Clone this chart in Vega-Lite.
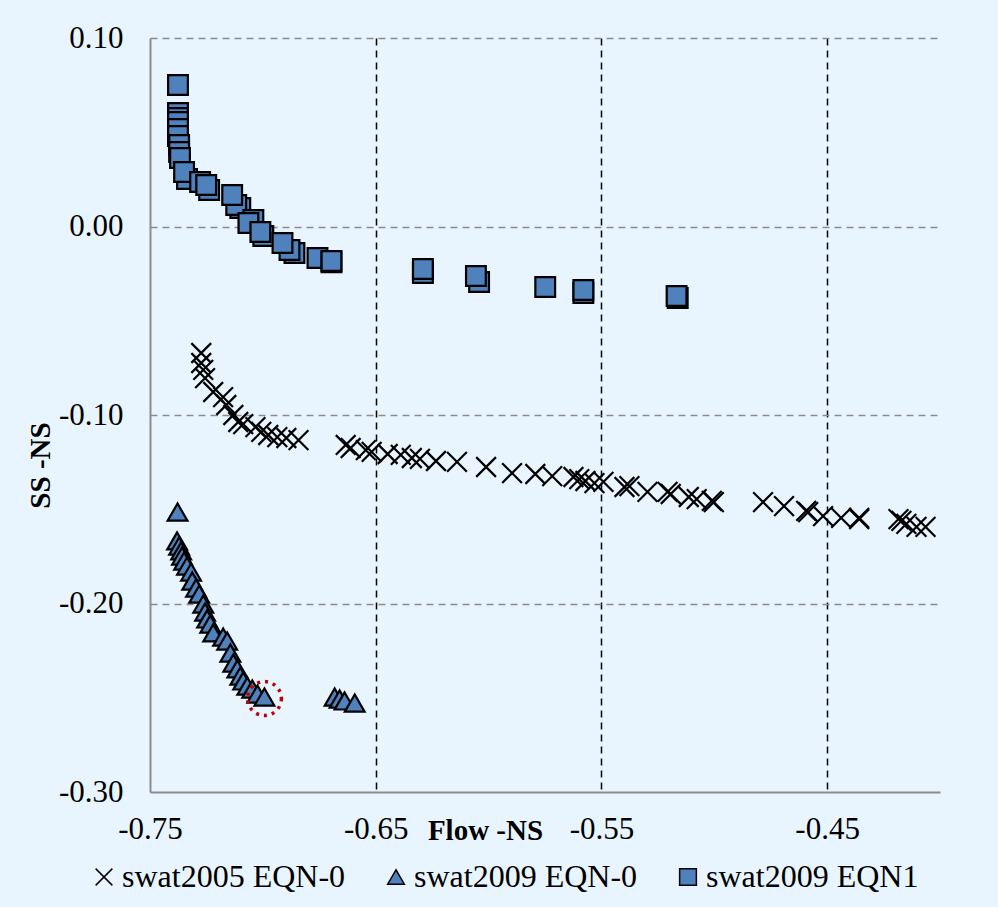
{
  "$schema": "https://vega.github.io/schema/vega-lite/v6.json",
  "width": 790,
  "height": 754,
  "autosize": "none",
  "padding": {"left": 150, "top": 38, "right": 58, "bottom": 115},
  "background": "#E9F5FE",
  "config": {
    "view": {"stroke": null},
    "font": "Liberation Serif",
    "axis": {"labelFont": "Liberation Serif", "labelFontSize": 31, "labelColor": "black", "titleFont": "Liberation Serif", "titleFontSize": 29, "titleFontWeight": "bold", "titleColor": "black", "ticks": false},
    "legend": {"labelFont": "Liberation Serif", "labelFontSize": 32, "labelColor": "black", "labelLimit": 500}
  },
  "datasets": {
    "points": [
      {"series": "swat2009 EQN1", "flow": -0.7376, "ss": 0.0751},
      {"series": "swat2009 EQN1", "flow": -0.7376, "ss": 0.0602},
      {"series": "swat2009 EQN1", "flow": -0.7376, "ss": 0.0576},
      {"series": "swat2009 EQN1", "flow": -0.7376, "ss": 0.0554},
      {"series": "swat2009 EQN1", "flow": -0.7376, "ss": 0.0517},
      {"series": "swat2009 EQN1", "flow": -0.7376, "ss": 0.0480},
      {"series": "swat2009 EQN1", "flow": -0.7371, "ss": 0.0432},
      {"series": "swat2009 EQN1", "flow": -0.7371, "ss": 0.0395},
      {"series": "swat2009 EQN1", "flow": -0.7367, "ss": 0.0363},
      {"series": "swat2009 EQN1", "flow": -0.7336, "ss": 0.0252},
      {"series": "swat2009 EQN1", "flow": -0.7349, "ss": 0.0289},
      {"series": "swat2009 EQN1", "flow": -0.7278, "ss": 0.0236},
      {"series": "swat2009 EQN1", "flow": -0.7238, "ss": 0.0194},
      {"series": "swat2009 EQN1", "flow": -0.7251, "ss": 0.0220},
      {"series": "swat2009 EQN1", "flow": -0.7100, "ss": 0.0098},
      {"series": "swat2009 EQN1", "flow": -0.7118, "ss": 0.0114},
      {"series": "swat2009 EQN1", "flow": -0.7136, "ss": 0.0167},
      {"series": "swat2009 EQN1", "flow": -0.7042, "ss": 0.0034},
      {"series": "swat2009 EQN1", "flow": -0.7064, "ss": 0.0019},
      {"series": "swat2009 EQN1", "flow": -0.6998, "ss": -0.0050},
      {"series": "swat2009 EQN1", "flow": -0.7011, "ss": -0.0029},
      {"series": "swat2009 EQN1", "flow": -0.6860, "ss": -0.0141},
      {"series": "swat2009 EQN1", "flow": -0.6882, "ss": -0.0125},
      {"series": "swat2009 EQN1", "flow": -0.6913, "ss": -0.0088},
      {"series": "swat2009 EQN1", "flow": -0.6758, "ss": -0.0167},
      {"series": "swat2009 EQN1", "flow": -0.6696, "ss": -0.0190},
      {"series": "swat2009 EQN1", "flow": -0.6696, "ss": -0.0183},
      {"series": "swat2009 EQN1", "flow": -0.6291, "ss": -0.0247},
      {"series": "swat2009 EQN1", "flow": -0.6291, "ss": -0.0225},
      {"series": "swat2009 EQN1", "flow": -0.6042, "ss": -0.0294},
      {"series": "swat2009 EQN1", "flow": -0.6056, "ss": -0.0263},
      {"series": "swat2009 EQN1", "flow": -0.5749, "ss": -0.0321},
      {"series": "swat2009 EQN1", "flow": -0.5580, "ss": -0.0353},
      {"series": "swat2009 EQN1", "flow": -0.5580, "ss": -0.0337},
      {"series": "swat2009 EQN1", "flow": -0.5162, "ss": -0.0379},
      {"series": "swat2009 EQN1", "flow": -0.5167, "ss": -0.0369},
      {"series": "swat2005 EQN-0", "flow": -0.7273, "ss": -0.0671},
      {"series": "swat2005 EQN-0", "flow": -0.7273, "ss": -0.0724},
      {"series": "swat2005 EQN-0", "flow": -0.7264, "ss": -0.0761},
      {"series": "swat2005 EQN-0", "flow": -0.7256, "ss": -0.0804},
      {"series": "swat2005 EQN-0", "flow": -0.7220, "ss": -0.0878},
      {"series": "swat2005 EQN-0", "flow": -0.7176, "ss": -0.0905},
      {"series": "swat2005 EQN-0", "flow": -0.7162, "ss": -0.0947},
      {"series": "swat2005 EQN-0", "flow": -0.7131, "ss": -0.1000},
      {"series": "swat2005 EQN-0", "flow": -0.7109, "ss": -0.1037},
      {"series": "swat2005 EQN-0", "flow": -0.7087, "ss": -0.1048},
      {"series": "swat2005 EQN-0", "flow": -0.7033, "ss": -0.1064},
      {"series": "swat2005 EQN-0", "flow": -0.7007, "ss": -0.1090},
      {"series": "swat2005 EQN-0", "flow": -0.6976, "ss": -0.1106},
      {"series": "swat2005 EQN-0", "flow": -0.6936, "ss": -0.1117},
      {"series": "swat2005 EQN-0", "flow": -0.6896, "ss": -0.1122},
      {"series": "swat2005 EQN-0", "flow": -0.6842, "ss": -0.1133},
      {"series": "swat2005 EQN-0", "flow": -0.6633, "ss": -0.1159},
      {"series": "swat2005 EQN-0", "flow": -0.6611, "ss": -0.1175},
      {"series": "swat2005 EQN-0", "flow": -0.6544, "ss": -0.1186},
      {"series": "swat2005 EQN-0", "flow": -0.6518, "ss": -0.1196},
      {"series": "swat2005 EQN-0", "flow": -0.6447, "ss": -0.1207},
      {"series": "swat2005 EQN-0", "flow": -0.6389, "ss": -0.1212},
      {"series": "swat2005 EQN-0", "flow": -0.6340, "ss": -0.1228},
      {"series": "swat2005 EQN-0", "flow": -0.6304, "ss": -0.1233},
      {"series": "swat2005 EQN-0", "flow": -0.6233, "ss": -0.1244},
      {"series": "swat2005 EQN-0", "flow": -0.6140, "ss": -0.1249},
      {"series": "swat2005 EQN-0", "flow": -0.6011, "ss": -0.1276},
      {"series": "swat2005 EQN-0", "flow": -0.5896, "ss": -0.1308},
      {"series": "swat2005 EQN-0", "flow": -0.5793, "ss": -0.1313},
      {"series": "swat2005 EQN-0", "flow": -0.5718, "ss": -0.1324},
      {"series": "swat2005 EQN-0", "flow": -0.5624, "ss": -0.1329},
      {"series": "swat2005 EQN-0", "flow": -0.5598, "ss": -0.1340},
      {"series": "swat2005 EQN-0", "flow": -0.5571, "ss": -0.1350},
      {"series": "swat2005 EQN-0", "flow": -0.5531, "ss": -0.1361},
      {"series": "swat2005 EQN-0", "flow": -0.5491, "ss": -0.1355},
      {"series": "swat2005 EQN-0", "flow": -0.5398, "ss": -0.1382},
      {"series": "swat2005 EQN-0", "flow": -0.5376, "ss": -0.1377},
      {"series": "swat2005 EQN-0", "flow": -0.5296, "ss": -0.1408},
      {"series": "swat2005 EQN-0", "flow": -0.5207, "ss": -0.1408},
      {"series": "swat2005 EQN-0", "flow": -0.5193, "ss": -0.1419},
      {"series": "swat2005 EQN-0", "flow": -0.5113, "ss": -0.1435},
      {"series": "swat2005 EQN-0", "flow": -0.5078, "ss": -0.1446},
      {"series": "swat2005 EQN-0", "flow": -0.5011, "ss": -0.1456},
      {"series": "swat2005 EQN-0", "flow": -0.5002, "ss": -0.1462},
      {"series": "swat2005 EQN-0", "flow": -0.4784, "ss": -0.1462},
      {"series": "swat2005 EQN-0", "flow": -0.4691, "ss": -0.1483},
      {"series": "swat2005 EQN-0", "flow": -0.4593, "ss": -0.1509},
      {"series": "swat2005 EQN-0", "flow": -0.4584, "ss": -0.1515},
      {"series": "swat2005 EQN-0", "flow": -0.4518, "ss": -0.1536},
      {"series": "swat2005 EQN-0", "flow": -0.4438, "ss": -0.1546},
      {"series": "swat2005 EQN-0", "flow": -0.4358, "ss": -0.1546},
      {"series": "swat2005 EQN-0", "flow": -0.4358, "ss": -0.1552},
      {"series": "swat2005 EQN-0", "flow": -0.4184, "ss": -0.1552},
      {"series": "swat2005 EQN-0", "flow": -0.4171, "ss": -0.1562},
      {"series": "swat2005 EQN-0", "flow": -0.4149, "ss": -0.1578},
      {"series": "swat2005 EQN-0", "flow": -0.4104, "ss": -0.1594},
      {"series": "swat2005 EQN-0", "flow": -0.4064, "ss": -0.1594},
      {"series": "swat2009 EQN-0", "flow": -0.7378, "ss": -0.1515},
      {"series": "swat2009 EQN-0", "flow": -0.7380, "ss": -0.1668},
      {"series": "swat2009 EQN-0", "flow": -0.7371, "ss": -0.1695},
      {"series": "swat2009 EQN-0", "flow": -0.7362, "ss": -0.1721},
      {"series": "swat2009 EQN-0", "flow": -0.7358, "ss": -0.1748},
      {"series": "swat2009 EQN-0", "flow": -0.7349, "ss": -0.1775},
      {"series": "swat2009 EQN-0", "flow": -0.7336, "ss": -0.1801},
      {"series": "swat2009 EQN-0", "flow": -0.7318, "ss": -0.1833},
      {"series": "swat2009 EQN-0", "flow": -0.7313, "ss": -0.1881},
      {"series": "swat2009 EQN-0", "flow": -0.7296, "ss": -0.1918},
      {"series": "swat2009 EQN-0", "flow": -0.7282, "ss": -0.1950},
      {"series": "swat2009 EQN-0", "flow": -0.7264, "ss": -0.2003},
      {"series": "swat2009 EQN-0", "flow": -0.7256, "ss": -0.2045},
      {"series": "swat2009 EQN-0", "flow": -0.7247, "ss": -0.2082},
      {"series": "swat2009 EQN-0", "flow": -0.7233, "ss": -0.2109},
      {"series": "swat2009 EQN-0", "flow": -0.7220, "ss": -0.2156},
      {"series": "swat2009 EQN-0", "flow": -0.7176, "ss": -0.2178},
      {"series": "swat2009 EQN-0", "flow": -0.7158, "ss": -0.2199},
      {"series": "swat2009 EQN-0", "flow": -0.7144, "ss": -0.2263},
      {"series": "swat2009 EQN-0", "flow": -0.7131, "ss": -0.2316},
      {"series": "swat2009 EQN-0", "flow": -0.7113, "ss": -0.2347},
      {"series": "swat2009 EQN-0", "flow": -0.7100, "ss": -0.2385},
      {"series": "swat2009 EQN-0", "flow": -0.7087, "ss": -0.2411},
      {"series": "swat2009 EQN-0", "flow": -0.7069, "ss": -0.2438},
      {"series": "swat2009 EQN-0", "flow": -0.7047, "ss": -0.2454},
      {"series": "swat2009 EQN-0", "flow": -0.7024, "ss": -0.2480},
      {"series": "swat2009 EQN-0", "flow": -0.6993, "ss": -0.2496},
      {"series": "swat2009 EQN-0", "flow": -0.6682, "ss": -0.2496},
      {"series": "swat2009 EQN-0", "flow": -0.6660, "ss": -0.2507},
      {"series": "swat2009 EQN-0", "flow": -0.6638, "ss": -0.2517},
      {"series": "swat2009 EQN-0", "flow": -0.6593, "ss": -0.2528}
    ],
    "highlight": [
      {"flow": -0.6993, "ss": -0.2504}
    ]
  },
  "layer": [
    {
      "data": {"name": "points"},
      "mark": {"type": "point", "filled": true, "stroke": "black", "strokeWidth": 2.2, "size": 390, "opacity": 1},
      "encoding": {
        "x": {
          "field": "flow", "type": "quantitative",
          "scale": {"domain": [-0.75, -0.40], "nice": false, "zero": false},
          "axis": {
            "values": [-0.75, -0.65, -0.55, -0.45], "format": ".2f",
            "labelExpr": "replace(datum.label, '\u2212', '-')",
            "labelPadding": 22, "labelFlush": false,
            "domainColor": "#8c8c8c", "domainWidth": 2,
            "grid": true, "gridDash": [7, 5], "gridWidth": 1.5,
            "gridColor": {"condition": {"test": "datum.value < -0.7", "value": "transparent"}, "value": "black"},
            "title": "Flow -NS", "titleX": 335, "titleY": 38, "titleBaseline": "middle"
          }
        },
        "y": {
          "field": "ss", "type": "quantitative",
          "scale": {"domain": [-0.30, 0.10], "nice": false, "zero": false},
          "axis": {
            "values": [0.10, 0.00, -0.10, -0.20, -0.30], "format": ".2f",
            "labelExpr": "replace(datum.label, '\u2212', '-')",
            "labelPadding": 27,
            "domainColor": "#8c8c8c", "domainWidth": 2,
            "grid": true, "gridDash": [7, 5], "gridWidth": 1.5,
            "gridColor": {"condition": {"test": "datum.value < -0.25", "value": "transparent"}, "value": "#8c8c8c"},
            "title": "SS -NS", "titleX": -110, "titleY": 427, "titleBaseline": "middle", "titleAngle": 270
          }
        },
        "shape": {
          "field": "series", "type": "nominal",
          "scale": {"domain": ["swat2005 EQN-0", "swat2009 EQN-0", "swat2009 EQN1"], "range": ["M-1,-1L1,1M1,-1L-1,1", "triangle-up", "square"]},
          "legend": {"title": null, "orient": "none", "legendX": -62, "legendY": 823, "direction": "horizontal", "symbolSize": 280, "labelOffset": 2, "columnPadding": 34, "symbolStrokeWidth": 1.5, "labelLimit": 500}
        },
        "fill": {
          "field": "series", "type": "nominal",
          "scale": {"domain": ["swat2005 EQN-0", "swat2009 EQN-0", "swat2009 EQN1"], "range": ["transparent", "#4F81BD", "#4F81BD"]},
          "legend": {"title": null, "orient": "none", "legendX": -62, "legendY": 823, "direction": "horizontal", "symbolSize": 280, "labelOffset": 2, "columnPadding": 34, "symbolStrokeWidth": 1.5, "labelLimit": 500}
        }
      }
    },
    {
      "data": {"name": "highlight"},
      "mark": {"type": "point", "shape": "circle", "filled": false, "stroke": "#C00000", "strokeWidth": 3.5, "strokeDash": [3, 5], "size": 1150, "opacity": 1},
      "encoding": {
        "x": {"field": "flow", "type": "quantitative"},
        "y": {"field": "ss", "type": "quantitative"}
      }
    }
  ]
}
